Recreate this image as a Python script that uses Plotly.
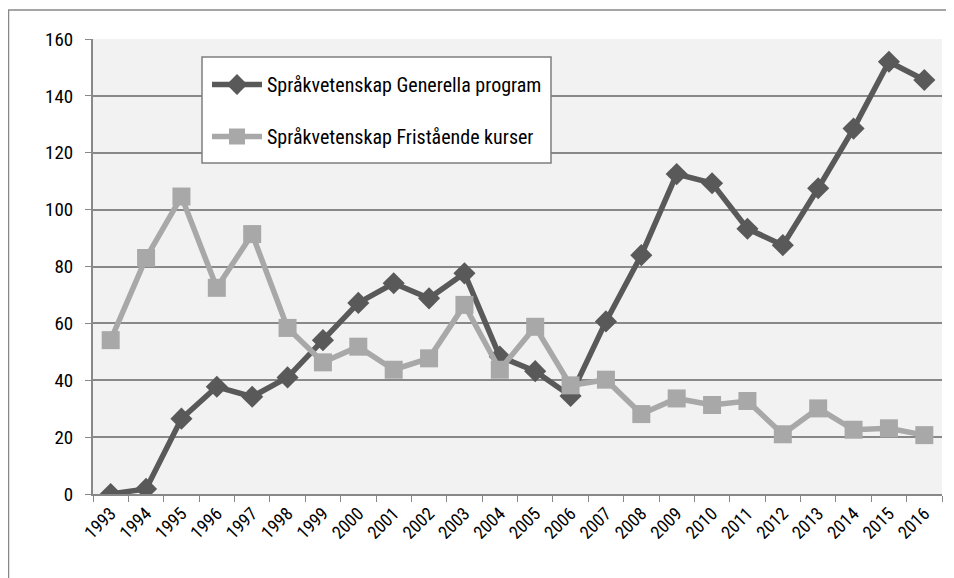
import plotly.graph_objects as go

years = [str(y) for y in range(1993, 2017)]
generella = [0, 1.8, 26.5, 37.7, 34.2, 41, 54.1, 67.2, 74.1, 68.8, 77.6, 48.3,
             43.2, 34.5, 60.7, 84, 112.5, 109.3, 93.3, 87.5, 107.5, 128.5, 152, 145.6]
fristaende = [54.1, 83, 104.6, 72.5, 91.4, 58.4, 46.3, 51.8, 43.7, 47.7, 66.5, 43.7,
              58.8, 38.2, 40.2, 28.1, 33.6, 31.3, 32.7, 21, 30.1, 22.6, 23.1, 20.7]
name_gen = "Språkvetenskap Generella program"
name_fri = "Språkvetenskap Fristående kurser"
y_ticks = [0, 20, 40, 60, 80, 100, 120, 140, 160]

FONT = "Liberation Sans Narrow, Arial Narrow, Roboto Condensed, DejaVu Sans Condensed, sans-serif"
DARK = "#595959"
LIGHT = "#a8a8a8"
GRID = "#888888"

fig = go.Figure()
fig.add_trace(go.Scatter(x=years, y=generella, name=name_gen, mode="lines+markers",
                         legendgroup="g1",
                         line=dict(color=DARK, width=5.5),
                         marker=dict(symbol="diamond", size=17, color=DARK)))
fig.add_trace(go.Scatter(x=years, y=fristaende, name=name_fri, mode="lines+markers",
                         legendgroup="g2",
                         line=dict(color=LIGHT, width=5.5),
                         marker=dict(symbol="square", size=18, color=LIGHT)))

# page is offset by the 8px body margin
W, H = 946, 570
L, R, T, B = 85, 12, 31, 84
pw, ph = W - L - R, H - T - B


def px(xp):
    return (xp - 8 - L) / pw


def py(yp):
    return (H - B - (yp - 8)) / ph


fig.update_layout(
    width=W, height=H,
    margin=dict(l=L, r=R, t=T, b=B),
    paper_bgcolor="white", plot_bgcolor="#f2f2f2",
    font=dict(family=FONT, size=18, color="#000000"),
    showlegend=True,
    legend=dict(x=px(207), y=py(65), xanchor="left", yanchor="top",
                bgcolor="rgba(0,0,0,0)", borderwidth=0,
                font=dict(family=FONT, size=20), tracegroupgap=23,
                itemwidth=50),
    xaxis=dict(type="category", showgrid=False, showline=True, linecolor=GRID,
               linewidth=2, ticks="outside", tickcolor=GRID, ticklen=6,
               tickson="boundaries", tickangle=-45,
               tickfont=dict(family=FONT, size=18), range=[-0.5, 23.5]),
    yaxis=dict(range=[0, 160], tickvals=y_ticks, showgrid=True, gridcolor=GRID,
               gridwidth=1.5, showline=True, linecolor=GRID, linewidth=2,
               ticks="outside", tickcolor=GRID, ticklen=6, ticklabelstandoff=8,
               tickfont=dict(family=FONT, size=19), zeroline=False),
)

# outer chart border (left and top edges visible in the reference)
fig.add_shape(type="rect", xref="paper", yref="paper",
              x0=px(8.5), x1=px(970), y0=py(600), y1=py(10),
              line=dict(color=GRID, width=1.5), fillcolor="rgba(0,0,0,0)",
              layer="below")
# legend box
fig.add_shape(type="rect", xref="paper", yref="paper",
              x0=px(202), x1=px(551), y0=py(163), y1=py(57),
              line=dict(color="#7f7f7f", width=1.5), fillcolor="white",
              layer="above")

fig.write_html("out.html")
